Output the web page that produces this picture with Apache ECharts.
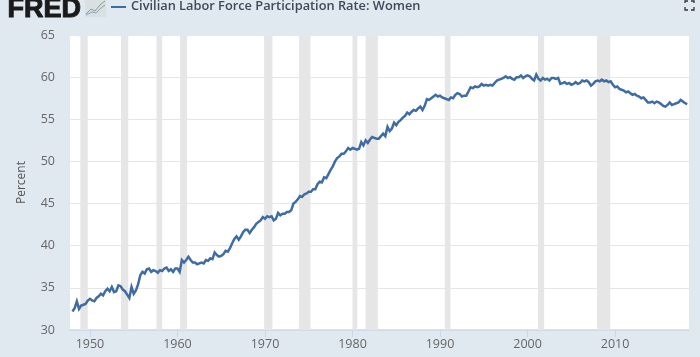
<!DOCTYPE html>
<html>
<head>
<meta charset="utf-8">
<style>
html,body{margin:0;padding:0;background:#e1e9f0;}
#chart{width:700px;height:357px;}
</style>
<script src="https://cdn.jsdelivr.net/npm/echarts@6/dist/echarts.min.js"></script>
</head>
<body>
<div id="chart"></div>
<script>
var seriesName = 'Civilian Labor Force Participation Rate: Women';
var startYear = 1948;
// quarterly readings
var pct1948 = [32.2,32.6,33.4,32.5, 32.9,33.0,33.1,33.5];
var pct1950s = [33.7,33.5,33.4,33.8, 34.0,34.3,34.1,34.6, 34.9,34.6,35.1,34.5, 34.6,35.3,35.2,34.8, 34.6,34.2,33.8,35.1,
	34.3,34.7,35.4,36.5, 36.9,36.7,37.2,37.3, 36.9,37.1,37.0,36.8, 37.1,37.0,37.3,37.4, 37.0,37.2,36.9,37.3];
var pct1960s = [37.3,36.9,38.3,38.0, 38.3,38.7,38.3,38.0, 38.0,37.8,37.9,38.0, 37.9,38.3,38.2,38.5, 38.4,39.2,38.9,38.7,
	38.8,39.0,39.4,39.3, 39.7,40.3,40.8,41.1, 40.7,41.1,41.6,41.9, 41.9,41.5,41.9,42.2, 42.6,42.8,43.0,43.4];
var pct1970s = [43.2,43.5,43.4,43.5, 43.0,43.2,43.9,43.6, 43.8,43.8,44.0,44.0, 44.2,45.0,45.2,45.5, 45.9,45.8,46.1,46.2,
	46.4,46.4,46.7,46.7, 47.3,47.6,47.5,48.1, 48.0,48.5,49.0,49.4, 50.0,50.4,50.6,50.9, 50.9,51.2,51.6,51.4];
var pct1980s = [51.6,51.5,51.4,51.5, 52.3,51.9,52.5,52.2, 52.6,52.9,52.8,52.7, 52.7,53.0,53.3,53.0, 54.1,53.6,53.9,54.6,
	54.3,54.7,54.9,55.2, 55.4,55.8,55.6,55.9, 56.1,56.0,56.3,56.5, 56.1,56.6,57.4,57.3, 57.5,57.7,57.9,57.7];
var pct1990s = [57.8,57.6,57.5,57.4, 57.3,57.6,57.5,57.9, 58.1,58.0,57.7,57.8, 57.8,58.3,58.8,58.7, 58.9,58.8,58.9,59.2,
	59.0,59.1,59.0,59.1, 59.0,59.3,59.6,59.7, 59.8,59.9,60.1,59.9, 60.0,59.8,59.7,60.0, 60.0,60.2,59.9,60.1];
var pct2000s = [60.2,60.1,59.8,59.6, 60.3,59.8,59.6,59.9, 59.7,59.8,59.6,59.9, 59.9,59.8,59.9,59.2, 59.3,59.4,59.2,59.3,
	59.1,59.2,59.4,59.2, 59.3,59.6,59.5,59.6, 59.4,59.0,59.2,59.5, 59.6,59.5,59.7,59.5, 59.6,59.4,59.5,59.1];
var pct2010s = [58.8,58.9,58.6,58.5, 58.4,58.2,58.3,58.1, 57.9,58.0,57.8,57.7, 57.5,57.6,57.3,57.0, 57.0,57.1,56.9,57.1,
	57.0,56.8,56.6,56.5, 56.7,57.0,56.7,56.8, 56.9,57.0,57.3,57.1, 56.9,56.8];
var recessionStarts = [1948.9,1953.55,1957.6,1960.3,1969.9,1973.9,1980.0,1981.5,1990.55,2001.2,2007.95];
var recessionEnds = [1949.75,1954.38,1958.25,1961.1,1970.85,1975.2,1980.55,1982.9,1991.2,2001.9,2009.45];
var xTicks = [1950,1960,1970,1980,1990,2000,2010];

var pct = [].concat(pct1948,pct1950s,pct1960s,pct1970s,pct1980s,pct1990s,pct2000s,pct2010s);
var lineData = [];
for (var i = 0; i < pct.length; i++) {
	lineData.push([startYear + i / 4, pct[i]]);
}
var bands = [];
for (var j = 0; j < recessionStarts.length; j++) {
	bands.push([{xAxis: recessionStarts[j]}, {xAxis: recessionEnds[j]}]);
}

var myChart = echarts.init(document.getElementById('chart'), null, {renderer: 'canvas'});
var option = {
	animation: false,
	backgroundColor: '#e1e9f0',
	grid: {left: 70, right: 11, top: 35, bottom: 27, backgroundColor: '#fff', show: true, borderWidth: 0},
	xAxis: {
		type: 'value',
		min: 1947.72,
		max: 2018.45,
		splitLine: {show: false},
		axisLine: {show: true, onZero: false, lineStyle: {color: '#ccd6eb', width: 1.5}},
		axisTick: {show: true, length: 7, customValues: xTicks, lineStyle: {color: '#ccd6eb'}},
		axisLabel: {customValues: xTicks, color: '#666', fontFamily: 'Open Sans', fontSize: 12.5, margin: 8, formatter: function (v) { return String(v); }}
	},
	yAxis: {
		type: 'value',
		min: 30,
		max: 65,
		interval: 5,
		name: 'Percent',
		nameLocation: 'middle',
		nameGap: 42,
		nameTextStyle: {color: '#555', fontFamily: 'Open Sans', fontSize: 12},
		axisLine: {show: false},
		axisTick: {show: false},
		axisLabel: {color: '#666', fontFamily: 'Open Sans', fontSize: 12.5, margin: 15},
		splitLine: {lineStyle: {color: '#e6e6e6', width: 1}}
	},
	series: [{
		name: seriesName,
		type: 'line',
		data: lineData,
		showSymbol: false,
		smooth: false,
		lineStyle: {color: '#3e6ca3', width: 2.5, join: 'miter'},
		markArea: {silent: true, itemStyle: {color: '#e6e6e6'}, data: bands}
	}],
	graphic: [
		{type: 'text', left: 7, top: -4, style: {text: 'FRED', fill: '#1a1a1a', stroke: '#1a1a1a', lineWidth: 1, font: '900 27px "Liberation Sans"'}},
		{type: 'rect', shape: {x: 85, y: 0, width: 21, height: 17}, style: {fill: '#d8e0e2'}},
		{type: 'polyline', shape: {points: [[86,14],[91,9],[95,11],[100,5],[105,1]]}, style: {stroke: '#7fa67f', fill: null, lineWidth: 1}},
		{type: 'polyline', shape: {points: [[86,15],[92,12],[96,13],[101,8],[105,5]]}, style: {stroke: '#8fa0b5', fill: null, lineWidth: 1}},
		{type: 'line', shape: {x1: 111, y1: 7, x2: 126, y2: 7}, style: {stroke: '#3e6ca3', lineWidth: 2}},
		{type: 'text', left: 131, top: 0, style: {text: seriesName, fill: '#3d4a5a', font: '600 12.8px "Open Sans"'}},
		{type: 'polyline', shape: {points: [[685,3],[685,1],[688,1]]}, style: {stroke: '#333', fill: null, lineWidth: 1.3}},
		{type: 'polyline', shape: {points: [[691,1],[694,1],[694,3]]}, style: {stroke: '#333', fill: null, lineWidth: 1.3}},
		{type: 'polyline', shape: {points: [[685,7],[685,10],[688,10]]}, style: {stroke: '#333', fill: null, lineWidth: 1.3}},
		{type: 'polyline', shape: {points: [[691,10],[694,10],[694,7]]}, style: {stroke: '#333', fill: null, lineWidth: 1.3}}
	]
};
myChart.setOption(option);
</script>
</body>
</html>
